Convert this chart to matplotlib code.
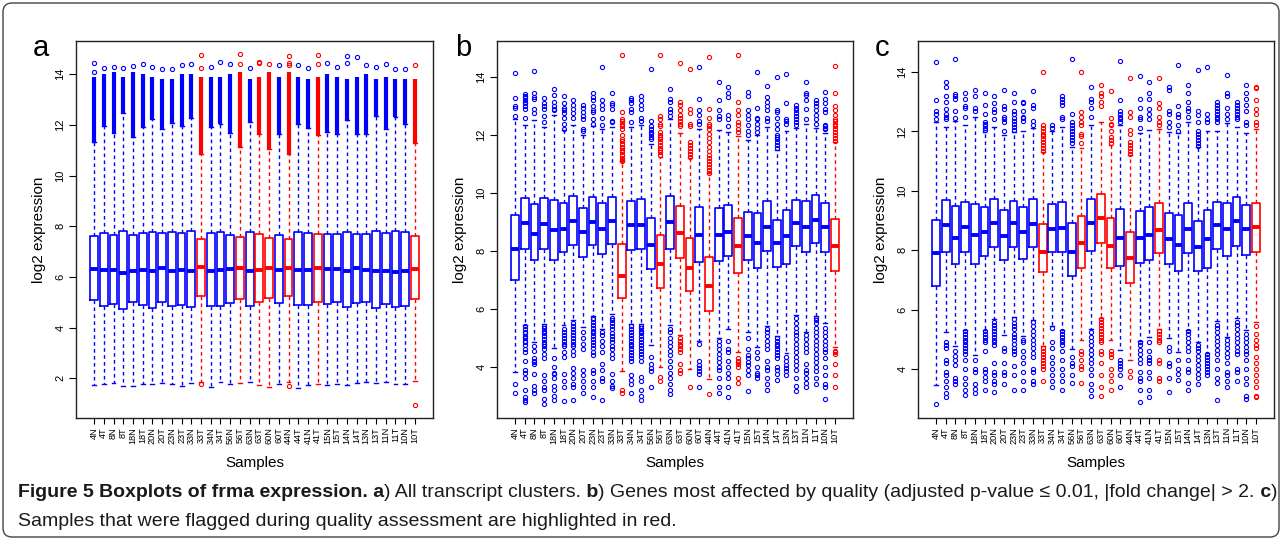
import matplotlib
matplotlib.use('Agg')
import matplotlib.pyplot as plt
from matplotlib.patches import FancyBboxPatch
from matplotlib.transforms import IdentityTransform

# ---------------- data ----------------
samples = ['4N', '4T', '8N', '8T', '18N', '18T', '20N', '20T', '23N', '23T', '33N', '33T',
           '34N', '34T', '56N', '56T', '63N', '63T', '60N', '60T', '44N', '44T', '41N', '41T',
           '15N', '15T', '14N', '14T', '13N', '13T', '11N', '11T', '10N', '10T']
flagged = ['33T', '56T', '63T', '60N', '44N', '41T', '10T']

# panel a: all transcript clusters
a_q1 = [5.09, 4.87, 4.93, 4.72, 5.00, 4.88, 4.79, 5.00, 4.84, 4.88, 4.80, 5.25, 4.86, 4.86, 4.95, 5.13, 4.84,
        5.01, 5.17, 4.96, 5.24, 4.88, 4.89, 5.01, 4.93, 4.99, 4.80, 4.96, 4.99, 4.76, 4.93, 4.82, 4.86, 5.12]
a_med = [6.30, 6.26, 6.26, 6.17, 6.24, 6.26, 6.24, 6.34, 6.24, 6.26, 6.24, 6.38, 6.24, 6.26, 6.30, 6.34, 6.24,
         6.26, 6.37, 6.26, 6.37, 6.26, 6.26, 6.34, 6.30, 6.30, 6.24, 6.34, 6.26, 6.24, 6.24, 6.20, 6.24, 6.30]
a_q3 = [7.62, 7.72, 7.66, 7.83, 7.66, 7.72, 7.78, 7.75, 7.76, 7.72, 7.80, 7.51, 7.72, 7.76, 7.66, 7.57, 7.76,
        7.68, 7.53, 7.66, 7.51, 7.76, 7.72, 7.68, 7.70, 7.68, 7.78, 7.68, 7.68, 7.82, 7.72, 7.82, 7.76, 7.60]
a_lo = [1.74, 1.79, 1.80, 1.70, 1.68, 1.78, 1.79, 1.80, 1.78, 1.71, 1.82, 1.87, 1.64, 1.87, 1.79, 1.82, 1.84,
        1.74, 1.64, 1.79, 1.84, 1.62, 1.74, 1.79, 1.74, 1.76, 1.74, 1.82, 1.86, 1.82, 1.84, 1.78, 1.79, 1.89]
a_hi = [11.34, 11.96, 11.67, 12.46, 11.54, 11.93, 12.22, 11.83, 12.09, 11.97, 12.26, 10.86, 11.93, 12.03,
        11.67, 11.14, 12.12, 11.64, 11.04, 11.64, 10.86, 12.03, 11.86, 11.60, 11.72, 11.64, 12.20, 11.64,
        11.63, 12.36, 11.83, 12.30, 12.03, 11.28]
# upper end of the dense (overplotted) outlier column in panel a
a_dense_top = [13.9, 14.0, 14.1, 13.9, 14.1, 14.0, 13.9, 13.8, 13.8, 14.0, 14.0, 13.9, 13.9, 13.9, 14.0, 14.1,
               13.8, 13.9, 14.1, 13.9, 14.1, 13.9, 13.8, 13.9, 14.0, 13.9, 13.8, 13.9, 14.0, 13.8, 13.9, 13.8,
               13.8, 13.8]
a_fliers = [[14.43, 14.1], [14.25], [14.3], [14.25], [14.33], [14.4], [14.27], [14.2], [14.22], [14.35],
            [14.42], [1.76, 14.25, 14.76], [14.3], [14.5], [14.4], [14.4, 14.78], [14.25], [14.45, 14.47],
            [14.42], [14.38], [1.68, 14.35, 14.45, 14.7], [14.35], [14.25], [14.4, 14.76], [14.45], [14.3],
            [14.45, 14.72], [14.67], [14.38], [14.3], [14.4], [14.22], [14.2], [0.96, 14.38]]

# panel b: genes most affected by quality
b_q1 = [6.99, 8.07, 7.67, 8.07, 7.68, 7.97, 8.20, 7.79, 8.21, 7.91, 8.23, 6.36, 8.02, 8.07, 7.37, 6.71, 8.07,
        7.76, 6.62, 7.62, 5.91, 7.65, 7.82, 7.25, 7.69, 7.41, 7.99, 7.46, 7.54, 8.17, 7.95, 8.27, 7.97, 7.31]
b_med = [8.07, 8.97, 8.60, 8.93, 8.71, 8.76, 9.04, 8.66, 9.00, 8.75, 9.04, 7.14, 8.88, 8.90, 8.21, 7.56, 9.00,
         8.62, 7.41, 8.55, 6.79, 8.55, 8.67, 8.17, 8.53, 8.29, 8.84, 8.27, 8.50, 8.98, 8.82, 9.07, 8.82, 8.17]
b_q3 = [9.23, 9.83, 9.62, 9.82, 9.75, 9.64, 9.91, 9.48, 9.86, 9.66, 9.85, 8.25, 9.72, 9.80, 9.14, 8.54, 9.89,
        9.54, 8.46, 9.52, 7.80, 9.48, 9.60, 9.13, 9.36, 9.31, 9.74, 9.08, 9.43, 9.77, 9.74, 9.92, 9.66, 9.10]
b_lo = [3.82, 5.45, 4.84, 5.49, 4.66, 5.43, 5.60, 5.37, 5.76, 5.29, 5.82, 3.87, 5.47, 5.47, 4.74, 4.00, 5.44,
        5.11, 3.93, 4.88, 3.59, 5.01, 5.31, 4.50, 5.19, 4.68, 5.42, 5.05, 4.47, 5.80, 5.20, 5.75, 5.51, 4.69]
b_hi = [12.55, 12.34, 12.53, 12.28, 12.71, 12.18, 12.34, 12.00, 12.30, 12.22, 12.28, 11.09, 12.28, 12.34,
        11.70, 11.26, 12.55, 12.06, 11.20, 12.21, 10.69, 12.18, 12.10, 11.98, 11.84, 12.00, 12.28, 11.49,
        12.15, 12.24, 12.39, 12.26, 12.07, 11.76]
b_fliers = [
    [3.40, 3.09, 12.67, 12.93, 12.99, 13.28, 14.14],
    [2.78, 2.85, 2.95, 3.2, 3.6, 3.8, 3.9, 4.2, 4.5, 4.6, 4.75, 4.85, 4.9, 5.0, 5.05, 5.15, 5.2, 5.3, 5.4,
     12.6, 12.9, 13.0, 13.1, 13.15, 13.2, 13.3, 13.35, 13.42],
    [3.1, 3.2, 3.35, 3.75, 4.1, 4.15, 4.2, 4.3, 4.55, 4.7, 12.75, 12.9, 13.25, 13.3, 13.45, 14.22],
    [2.7, 2.9, 3.2, 3.3, 3.5, 3.7, 4.3, 4.45, 4.6, 4.7, 4.8, 4.85, 4.95, 5.05, 5.15, 5.25, 5.35, 5.42,
     12.45, 12.65, 12.9, 13.0, 13.1, 13.28],
    [2.85, 3.0, 3.2, 3.35, 3.6, 3.75, 3.8, 4.0, 4.3, 12.85, 12.9, 13.0, 13.15, 13.4, 13.6],
    [2.8, 3.3, 3.5, 3.75, 4.35, 4.5, 4.7, 4.8, 4.9, 5.0, 5.1, 5.2, 5.3, 12.2, 12.4, 12.6, 12.75, 12.85,
     12.95, 13.1, 13.35],
    [2.85, 3.3, 3.4, 3.6, 3.8, 3.95, 4.4, 4.55, 4.7, 4.8, 4.9, 5.0, 5.1, 5.2, 5.3, 5.4, 5.5,
     12.6, 12.75, 12.9, 13.05, 13.2],
    [3.1, 3.3, 3.5, 3.7, 3.9, 4.6, 4.8, 5.0, 5.2, 12.15, 12.2, 12.55, 12.65, 12.8, 12.95, 13.05],
    [2.95, 3.3, 3.5, 3.8, 3.9, 4.4, 4.5, 4.65, 4.75, 4.85, 4.95, 5.05, 5.15, 5.25, 5.35, 5.45, 5.55, 5.65,
     5.7, 12.4, 12.55, 12.8, 12.85, 13.0, 13.2, 13.3, 13.45],
    [2.85, 3.5, 3.6, 3.9, 4.1, 4.5, 4.7, 4.9, 5.1, 5.2, 12.35, 12.6, 12.9, 13.05, 13.2, 14.35],
    [3.25, 3.35, 3.5, 3.75, 4.3, 4.45, 4.6, 4.7, 4.85, 4.95, 5.05, 5.15, 5.3, 5.4, 5.5, 5.6, 5.7,
     12.45, 12.5, 12.9, 13.05, 13.1, 13.47],
    [3.1, 3.2, 11.1, 11.15, 11.2, 11.3, 11.4, 11.5, 11.55, 11.6, 11.7, 11.8, 11.85, 12.0, 12.2, 12.3, 12.4,
     12.5, 12.55, 12.8, 14.76],
    [3.1, 3.4, 3.55, 3.7, 4.2, 4.3, 4.4, 4.5, 4.6, 4.7, 4.8, 4.9, 5.0, 5.1, 5.2, 5.3, 5.4,
     12.45, 12.8, 12.9, 13.1, 13.2, 13.28],
    [2.85, 3.0, 3.2, 3.5, 3.65, 4.2, 4.35, 4.45, 4.55, 4.65, 4.75, 4.85, 4.95, 5.05, 5.15, 5.25, 5.35, 5.4,
     12.5, 12.6, 12.9, 13.05, 13.2, 13.35],
    [3.3, 3.85, 3.95, 4.1, 4.35, 11.85, 11.95, 12.05, 12.1, 12.2, 12.3, 12.5, 14.27],
    [3.5, 3.65, 11.3, 11.4, 11.5, 11.55, 11.65, 11.75, 11.85, 11.95, 12.0, 12.1, 12.3, 12.4, 12.55, 12.67,
     14.78],
    [3.05, 3.2, 3.4, 3.6, 3.8, 4.0, 4.2, 4.4, 4.55, 4.7, 4.85, 5.0, 5.2, 5.3,
     12.65, 12.8, 12.9, 13.15, 13.25, 13.6],
    [3.8, 3.9, 4.1, 4.5, 4.6, 4.7, 4.8, 4.9, 5.0, 12.3, 12.4, 12.5, 12.6, 12.7, 12.85, 13.05, 13.15, 14.5],
    [3.3, 11.25, 11.35, 11.45, 11.55, 11.65, 11.75, 12.3, 12.4, 12.75, 12.9, 14.28],
    [3.3, 3.75, 3.85, 3.95, 4.05, 4.2, 4.8, 12.4, 12.5, 12.7, 12.85, 13.25, 14.35],
    [3.05, 10.7, 10.8, 10.9, 11.0, 11.1, 11.2, 11.3, 11.45, 11.6, 11.75, 11.9, 12.05, 12.2, 12.3, 12.4,
     12.6, 12.9, 14.7],
    [3.1, 3.3, 3.6, 3.9, 4.0, 4.15, 4.3, 4.45, 4.6, 4.75, 4.9, 12.55, 12.65, 12.85, 13.2, 13.82],
    [2.95, 3.3, 3.6, 3.8, 4.0, 4.2, 4.5, 4.6, 4.9, 12.3, 12.55, 12.7, 13.3, 13.45, 13.65],
    [3.45, 3.6, 4.0, 4.1, 4.15, 4.2, 4.3, 12.1, 12.2, 12.35, 12.45, 12.7, 12.85, 13.15, 14.76],
    [3.15, 3.7, 3.9, 4.05, 4.15, 4.3, 4.4, 4.6, 5.0, 12.0, 12.15, 12.35, 12.55, 12.7, 12.85, 13.35, 13.5],
    [3.6, 3.7, 3.8, 4.0, 4.3, 4.5, 12.1, 12.25, 12.4, 12.55, 12.6, 12.95, 14.18],
    [3.2, 3.4, 3.6, 3.9, 4.0, 4.2, 4.6, 4.75, 4.9, 5.05, 5.2, 5.3, 12.5, 12.6, 12.85, 13.0, 13.15, 13.3,
     13.68],
    [3.55, 3.75, 3.9, 4.0, 4.3, 4.4, 4.5, 4.6, 4.7, 4.8, 4.9, 5.0, 11.55, 11.65, 11.75, 11.85, 11.95, 12.0,
     12.2, 12.4, 12.6, 12.8, 12.85, 14.02],
    [3.7, 3.85, 3.95, 4.05, 4.2, 4.35, 12.4, 12.5, 12.55, 13.1, 14.1],
    [3.15, 3.35, 3.6, 3.9, 4.05, 4.2, 4.35, 4.5, 4.65, 4.8, 4.95, 5.1, 5.2, 5.35, 5.5, 5.7,
     12.35, 12.45, 12.55, 12.65, 12.75, 12.85, 12.95, 13.05],
    [3.3, 3.45, 3.6, 3.8, 3.9, 4.1, 4.5, 4.65, 4.8, 4.95, 5.1, 12.55, 12.9, 13.2, 13.4, 13.45, 13.85],
    [3.4, 3.6, 3.85, 4.0, 4.15, 4.3, 4.45, 4.6, 4.75, 4.9, 5.05, 5.2, 5.35, 5.5, 5.6, 5.7,
     12.4, 12.55, 12.7, 12.85, 13.0, 13.1, 13.2],
    [2.9, 3.3, 3.4, 3.7, 4.0, 4.3, 4.5, 4.6, 4.75, 4.9, 5.05, 5.2, 5.35, 12.2, 12.25, 12.3, 12.35, 12.8,
     12.9, 13.1, 13.25, 13.5],
    [3.3, 3.7, 4.1, 4.45, 4.5, 4.55, 11.8, 11.9, 12.0, 12.1, 12.2, 12.3, 12.4, 12.5, 12.55, 12.7, 12.85,
     13.0, 13.45, 14.4],
]

# panel c
c_q1 = [6.81, 7.94, 7.55, 7.94, 7.55, 7.81, 8.11, 7.66, 8.11, 7.72, 8.11, 7.26, 7.94, 7.94, 7.14, 7.41, 7.98,
        8.26, 7.40, 7.48, 6.91, 7.59, 7.68, 7.92, 7.55, 7.31, 7.90, 7.32, 7.42, 8.03, 7.81, 8.15, 7.85, 7.95]
c_med = [7.90, 8.85, 8.43, 8.80, 8.53, 8.61, 8.91, 8.48, 8.91, 8.61, 8.87, 7.95, 8.71, 8.74, 7.95, 8.26, 8.91,
         9.07, 8.16, 8.43, 7.75, 8.43, 8.53, 8.70, 8.39, 8.19, 8.73, 8.12, 8.39, 8.85, 8.71, 8.98, 8.73, 8.77]
c_q3 = [9.03, 9.68, 9.48, 9.63, 9.55, 9.46, 9.71, 9.35, 9.67, 9.46, 9.71, 8.90, 9.55, 9.63, 8.92, 9.14, 9.74,
        9.89, 9.08, 9.38, 8.62, 9.31, 9.46, 9.60, 9.27, 9.18, 9.58, 8.99, 9.35, 9.63, 9.60, 9.80, 9.52, 9.60]
c_lo = [3.47, 5.25, 4.77, 5.33, 4.47, 5.33, 5.69, 5.14, 5.75, 5.12, 5.65, 4.79, 5.44, 5.33, 4.68, 4.97, 5.35,
        5.72, 4.97, 4.64, 4.32, 4.96, 5.10, 5.34, 5.06, 4.59, 5.33, 4.91, 4.53, 5.61, 5.08, 5.71, 5.32, 5.58]
c_hi = [12.33, 12.16, 12.34, 12.20, 12.47, 11.99, 12.16, 11.89, 11.99, 12.00, 12.10, 11.31, 12.00, 12.16,
        11.48, 11.43, 12.21, 12.30, 11.53, 12.21, 11.20, 11.93, 12.04, 12.07, 11.99, 11.93, 12.33, 11.46,
        12.02, 12.02, 12.27, 12.16, 11.93, 12.07]
c_fliers = [
    [2.83, 12.4, 12.6, 12.7, 13.05, 14.35],
    [3.05, 3.2, 3.4, 3.6, 3.8, 3.9, 4.2, 4.3, 4.7, 4.8, 4.9, 12.4, 12.5, 12.6, 12.75, 13.0, 13.2, 13.5, 13.65],
    [3.5, 3.6, 3.7, 4.15, 4.3, 4.45, 4.6, 12.45, 12.7, 13.1, 13.2, 13.25, 14.45],
    [3.15, 3.3, 3.5, 3.7, 4.0, 4.3, 4.5, 4.6, 4.7, 4.8, 4.9, 5.0, 5.1, 5.2, 5.3, 12.5, 12.8, 12.85, 13.1,
     13.3],
    [3.2, 3.35, 3.5, 3.9, 4.0, 4.3, 12.7, 12.8, 13.2, 13.4],
    [3.3, 3.6, 3.75, 3.9, 4.0, 4.6, 4.9, 5.0, 5.1, 5.2, 5.3, 12.05, 12.1, 12.2, 12.25, 12.3, 12.6, 12.9,
     13.3],
    [3.25, 3.5, 3.6, 3.8, 3.9, 4.2, 4.8, 4.9, 5.0, 5.1, 5.2, 5.3, 5.4, 5.5, 5.6, 12.4, 12.65, 12.75, 12.95,
     13.2],
    [3.5, 3.8, 3.9, 4.2, 4.6, 4.7, 12.0, 12.3, 12.4, 12.5, 12.75, 12.85, 13.4],
    [3.3, 3.8, 4.1, 4.5, 4.6, 4.7, 4.85, 5.0, 5.1, 5.2, 5.35, 5.45, 5.55, 5.7, 12.05, 12.15, 12.25, 12.35,
     12.45, 12.6, 12.7, 13.0, 13.3],
    [3.3, 3.6, 3.9, 4.2, 4.4, 4.6, 4.9, 5.0, 12.35, 12.45, 12.5, 12.7, 12.95, 13.0],
    [3.5, 3.6, 3.9, 4.0, 4.4, 4.55, 4.7, 4.85, 5.0, 5.15, 5.3, 5.45, 5.6, 12.2, 12.35, 12.8, 12.9, 13.35],
    [3.6, 4.0, 4.1, 4.2, 4.3, 4.4, 4.5, 4.6, 4.7, 11.35, 11.45, 11.55, 11.65, 11.75, 11.85, 11.9, 12.0,
     12.1, 12.2, 14.0],
    [3.4, 3.6, 3.8, 4.0, 4.2, 4.4, 4.7, 4.9, 5.4, 12.1, 12.2],
    [3.3, 3.6, 3.8, 4.0, 4.3, 4.6, 4.8, 4.9, 5.0, 5.1, 5.2, 5.3, 12.4, 12.5, 12.9, 13.0, 13.1, 13.2],
    [3.55, 3.8, 4.1, 4.2, 4.4, 11.6, 11.7, 11.8, 11.9, 12.0, 12.1, 12.2, 12.3, 12.6, 14.45],
    [3.55, 4.0, 4.1, 4.3, 4.5, 4.6, 11.6, 11.85, 11.9, 12.2, 12.3, 12.5, 12.65, 14.0],
    [3.1, 3.3, 3.5, 3.8, 4.0, 4.2, 4.35, 4.5, 4.65, 4.8, 4.95, 5.1, 5.25, 12.5, 12.8, 13.0, 13.1, 13.5],
    [3.1, 3.4, 3.8, 4.2, 4.5, 4.6, 4.9, 5.0, 5.1, 5.2, 5.3, 5.4, 5.5, 5.6, 5.7, 12.85, 13.0, 13.2, 13.3,
     13.55],
    [3.3, 3.6, 3.8, 4.0, 4.4, 4.5, 4.6, 11.6, 11.7, 11.8, 12.0, 12.2, 12.25, 12.45, 13.35],
    [3.4, 3.8, 4.0, 4.1, 4.2, 4.3, 12.3, 12.4, 12.5, 12.6, 12.7, 13.05, 14.38],
    [3.75, 3.95, 11.25, 11.35, 11.45, 11.55, 11.65, 11.9, 12.05, 12.5, 12.65, 13.8],
    [2.9, 3.3, 3.6, 3.7, 3.9, 4.2, 4.35, 4.5, 4.65, 4.8, 4.9, 12.1, 12.4, 12.5, 12.8, 13.1, 13.85],
    [3.05, 3.3, 3.7, 3.9, 4.2, 4.3, 4.4, 4.6, 4.9, 12.4, 12.6, 12.75, 13.1, 13.3, 13.65],
    [3.6, 3.7, 4.2, 4.3, 4.9, 5.0, 5.1, 5.2, 5.3, 12.2, 12.3, 12.5, 12.8, 12.95, 13.8],
    [3.25, 3.7, 4.1, 4.2, 4.6, 4.75, 12.15, 12.3, 12.6, 12.7, 13.4, 13.5],
    [3.65, 3.85, 4.0, 4.3, 12.0, 12.2, 12.5, 12.6, 12.85, 14.22],
    [3.3, 3.55, 3.9, 4.0, 4.3, 4.6, 4.75, 4.9, 5.05, 5.2, 5.3, 12.5, 12.7, 12.8, 13.0, 13.3, 13.55],
    [3.5, 3.7, 3.85, 4.0, 4.15, 4.3, 4.45, 4.6, 4.7, 4.8, 11.5, 11.6, 11.7, 11.8, 11.9, 12.0, 12.3, 12.55,
     12.7, 14.05],
    [3.8, 3.9, 4.0, 4.1, 4.2, 4.3, 4.4, 4.5, 12.3, 12.4, 12.6, 14.15],
    [2.95, 3.55, 3.7, 4.0, 4.3, 4.5, 4.65, 4.8, 4.95, 5.1, 5.25, 5.4, 5.5, 12.3, 12.4, 12.5, 12.6, 12.7,
     12.8, 12.9, 13.0],
    [3.4, 3.6, 3.8, 3.9, 4.2, 4.4, 4.55, 4.7, 4.85, 5.0, 12.4, 12.6, 12.8, 13.2, 13.3, 13.9],
    [3.6, 3.9, 4.0, 4.5, 4.6, 4.75, 4.9, 5.05, 5.2, 5.35, 5.5, 5.6, 12.4, 12.5, 12.6, 12.7, 12.8, 12.9, 13.0],
    [3.0, 3.1, 3.5, 3.7, 4.0, 4.3, 4.5, 4.6, 4.75, 4.9, 5.05, 5.2, 12.2, 12.3, 12.7, 12.9, 13.1, 13.3, 13.55],
    [3.05, 3.1, 3.4, 3.6, 3.8, 4.0, 4.2, 4.4, 4.7, 4.8, 5.0, 5.2, 5.45, 12.2, 12.3, 12.6, 12.75, 13.05,
     13.45, 13.5],
]

panel_letters = ['a', 'b', 'c']
y_ticks_a = [2, 4, 6, 8, 10, 12, 14]
y_ticks_bc = [4, 6, 8, 10, 12, 14]
x_label = 'Samples'
y_label = 'log2 expression'
caption_line1 = [('Figure 5 Boxplots of frma expression. a', True), (') All transcript clusters.', False),
                 (' b', True), (') Genes most affected by quality (adjusted p-value \u2264 0.01, |fold change| > 2.', False),
                 (' c', True), (')', False)]
caption_line2 = [('Samples that were flagged during quality assessment are highlighted in red.', False)]

# ---------------- drawing ----------------
W, H = 1282, 540
BLUE = '#0000FF'
RED = '#FF0000'
AXFONT = ['Liberation Sans', 'DejaVu Sans']
CAPFONT = ['Liberation Sans', 'DejaVu Sans']

plt.rcParams['font.family'] = AXFONT
fig = plt.figure(figsize=(W / 100, H / 100), dpi=100)
fig.patch.set_facecolor('white')


def px_axes(left, top, right, bottom):
    return fig.add_axes([left / W, 1 - bottom / H, (right - left) / W, (bottom - top) / H])


def draw_panel(ax, q1, med, q3, lo, hi, fliers, ylim, yticks, dense_top=None):
    n = len(samples)
    pos = list(range(1, n + 1))
    stats = [dict(med=med[i], q1=q1[i], q3=q3[i], whislo=lo[i], whishi=hi[i], fliers=fliers[i])
             for i in range(n)]
    cols = [RED if s in flagged else BLUE for s in samples]
    if dense_top is not None:
        ax.vlines(pos, hi, dense_top, colors=cols, lw=3.0, zorder=2)
    art = ax.bxp(stats, positions=pos, widths=0.8, capwidths=0.4, manage_ticks=False,
                 boxprops=dict(lw=1.2),
                 medianprops=dict(lw=2.8, solid_capstyle='butt'),
                 whiskerprops=dict(lw=1.0, linestyle=(0, (2.6, 2.4))),
                 capprops=dict(lw=1.0),
                 flierprops=dict(marker='o', markersize=3.0, markerfacecolor='none',
                                 markeredgewidth=0.8, linestyle='none'))
    for i, c in enumerate(cols):
        art['boxes'][i].set_color(c)
        art['medians'][i].set_color(c)
        for k in (2 * i, 2 * i + 1):
            art['whiskers'][k].set_color(c)
            art['caps'][k].set_color(c)
        art['fliers'][i].set_markeredgecolor(c)
    ax.set_xlim(1 - 1.86, n + 1.86)
    ax.set_ylim(*ylim)
    ax.set_xticks(pos)
    ax.set_xticklabels(samples, rotation=90, fontsize=6.6)
    ax.set_yticks(yticks)
    ax.set_yticklabels([str(t) for t in yticks], rotation=90, va='center', fontsize=8)
    ax.tick_params(axis='x', length=4, width=0.8, pad=2.5, direction='out')
    ax.tick_params(axis='y', length=5, width=0.8, pad=2.5, direction='out')
    for sp in ax.spines.values():
        sp.set_linewidth(1.0)
        sp.set_color('#222222')


panels = [
    (76, 433, (0.43, 15.31), y_ticks_a, a_q1, a_med, a_q3, a_lo, a_hi, a_fliers, a_dense_top, 33),
    (497, 853, (2.23, 15.25), y_ticks_bc, b_q1, b_med, b_q3, b_lo, b_hi, b_fliers, None, 455),
    (918, 1274, (2.36, 15.04), y_ticks_bc, c_q1, c_med, c_q3, c_lo, c_hi, c_fliers, None, 875),
]
TOP, BOT = 41, 418
for k, (l, r, yl, yt, q1, md, q3, lo, hi, fl, dt, lx) in enumerate(panels):
    ax = px_axes(l, TOP, r, BOT)
    draw_panel(ax, q1, md, q3, lo, hi, fl, yl, yt, dt)
    fig.text((l - 37) / W, 1 - ((TOP + BOT) / 2) / H, y_label, rotation=90, ha='center', va='center',
             fontsize=11)
    fig.text(((l + r) / 2) / W, 1 - 463 / H, x_label, ha='center', va='center', fontsize=11)
    fig.text(lx / W, 1 - 56 / H, panel_letters[k], ha='left', va='baseline', fontsize=21)

# caption (mixed bold / normal runs)
renderer = fig.canvas.get_renderer()


def measure(pieces, size):
    total = 0
    for txt, bold in pieces:
        t = fig.text(0, 0, txt, fontsize=size, fontweight='bold' if bold else 'normal', family=CAPFONT)
        total += t.get_window_extent(renderer).width
        t.remove()
    return total


def rich_line(x0, y0, pieces, size):
    x = x0
    for txt, bold in pieces:
        t = fig.text(x / W, 1 - y0 / H, txt, fontsize=size, fontweight='bold' if bold else 'normal',
                     family=CAPFONT, ha='left', va='baseline', color='#1a1a1a')
        x = t.get_window_extent(renderer).x1


cap_size = 10 * (1256 / measure(caption_line1, 10))
cap_size = min(cap_size, 14)
rich_line(18, 497, caption_line1, cap_size)
rich_line(18, 526, caption_line2, cap_size)

# outer rounded frame
frame = FancyBboxPatch((3, 3), W - 6, H - 6, boxstyle='round,pad=0,rounding_size=9',
                       transform=IdentityTransform(), fill=False, ec='#444444', lw=1.0)
fig.patches.append(frame)

fig.savefig('out.png', dpi=100)
